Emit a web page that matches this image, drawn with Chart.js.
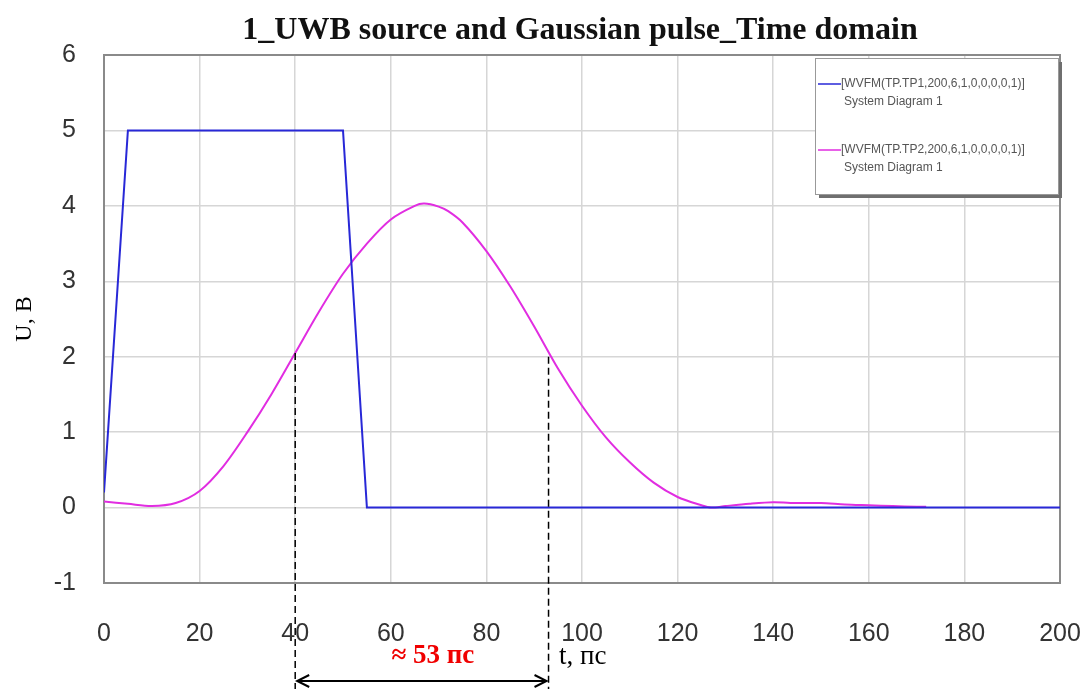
<!DOCTYPE html>
<html>
<head>
<meta charset="utf-8">
<script src="https://cdn.jsdelivr.net/npm/chart.js@4.4.1/dist/chart.umd.min.js"></script>
<style>
html,body{margin:0;padding:0;background:#fff;}
#wrap{width:1083px;height:689px;position:relative;}
</style>
</head>
<body>
<div id="wrap"><canvas id="c" width="1083" height="689"></canvas></div>
<script>
// ---- data ----
const chartTitle = "1_UWB source and Gaussian pulse_Time domain";
const series1Label = "[WVFM(TP.TP1,200,6,1,0,0,0,0,1)]";
const series2Label = "[WVFM(TP.TP2,200,6,1,0,0,0,0,1)]";
const legendSub = "System Diagram 1";
const sourceT = [0, 5, 50, 55, 200];
const sourceU = [0.2, 5, 5, 0, 0];
const pulseT = [0, 5, 10, 15, 20, 25, 30, 35, 40, 45, 50, 55, 60, 65, 67, 70, 72, 75, 80, 85, 90, 95, 100, 105, 110, 115, 120, 125, 127, 130, 135, 140, 145, 150, 155, 160, 165, 170, 172];
const pulseU = [0.08, 0.05, 0.02, 0.06, 0.22, 0.55, 1.0, 1.5, 2.05, 2.6, 3.1, 3.5, 3.82, 4.0, 4.03, 3.99, 3.93, 3.78, 3.4, 2.93, 2.4, 1.84, 1.35, 0.93, 0.6, 0.33, 0.14, 0.03, 0.0, 0.02, 0.05, 0.07, 0.06, 0.06, 0.04, 0.03, 0.02, 0.01, 0.01];
const markerT = [40, 93];
const markerU = [2.05, 2.0];
const widthLabel = "≈ 53 пс";
const xAxisLabel = "t, пс";
const yAxisLabel = "U, В";
const xTicks = [0, 20, 40, 60, 80, 100, 120, 140, 160, 180, 200];
const yTicks = [-1, 0, 1, 2, 3, 4, 5, 6];

const BLUE = 'rgb(40,40,215)';
const MAG = 'rgb(225,45,225)';

const toXY = (xs, ys) => xs.map((x, i) => ({x: x, y: ys[i]}));

const framePlugin = {
  id: 'frame',
  beforeDatasetsDraw(chart) {
    const a = chart.chartArea, ctx = chart.ctx;
    ctx.save();
    ctx.strokeStyle = '#8a8a8a';
    ctx.lineWidth = 2;
    ctx.strokeRect(a.left, a.top, a.right - a.left, a.bottom - a.top);
    ctx.restore();
  },
  afterDraw(chart) {
    const ctx = chart.ctx, xs = chart.scales.x, ys = chart.scales.y;
    ctx.save();
    // title
    ctx.font = 'bold 32px "Liberation Serif", "Times New Roman", serif';
    ctx.fillStyle = '#111';
    ctx.textAlign = 'center';
    ctx.textBaseline = 'middle';
    ctx.fillText(chartTitle, 580, 31);
    // legend box
    const lx = 815, ly = 58, lw = 243, lh = 136;
    ctx.fillStyle = '#6f6f6f';
    ctx.fillRect(lx + 4, ly + 4, lw, lh);
    ctx.fillStyle = '#fff';
    ctx.fillRect(lx, ly, lw, lh);
    ctx.strokeStyle = '#999';
    ctx.lineWidth = 1;
    ctx.strokeRect(lx + 0.5, ly + 0.5, lw, lh);
    const entries = [[series1Label, BLUE, 84], [series2Label, MAG, 150]];
    ctx.font = '12px "Liberation Sans", Arial, sans-serif';
    ctx.textBaseline = 'middle';
    ctx.textAlign = 'left';
    entries.forEach(e => {
      ctx.strokeStyle = e[1];
      ctx.lineWidth = 1.5;
      ctx.beginPath();
      ctx.moveTo(818, e[2]);
      ctx.lineTo(841, e[2]);
      ctx.stroke();
      ctx.fillStyle = '#555';
      ctx.fillText(e[0], 841, e[2]);
      ctx.fillText(legendSub, 844, e[2] + 18);
    });
    // marker dashed lines
    ctx.strokeStyle = '#000';
    ctx.lineWidth = 1.5;
    ctx.setLineDash([7, 4]);
    const px = markerT.map(t => xs.getPixelForValue(t));
    markerT.forEach((t, i) => {
      ctx.beginPath();
      ctx.moveTo(px[i], ys.getPixelForValue(markerU[i]));
      ctx.lineTo(px[i], chart.height);
      ctx.stroke();
    });
    ctx.setLineDash([]);
    // double arrow
    const ay = 681;
    ctx.lineWidth = 2;
    ctx.beginPath();
    ctx.moveTo(px[0] + 2, ay);
    ctx.lineTo(px[1] - 2, ay);
    ctx.stroke();
    [[px[0], 1], [px[1], -1]].forEach(([x, d]) => {
      ctx.beginPath();
      ctx.moveTo(x + d * 14, ay - 6);
      ctx.lineTo(x + d * 2, ay);
      ctx.lineTo(x + d * 14, ay + 6);
      ctx.stroke();
    });
    // labels
    ctx.textAlign = 'center';
    ctx.textBaseline = 'middle';
    ctx.font = 'bold 27px "Liberation Serif", "Times New Roman", serif';
    ctx.fillStyle = '#f00000';
    ctx.fillText(widthLabel, (px[0] + px[1]) / 2 + 11, 656);
    ctx.font = '27px "Liberation Serif", "Times New Roman", serif';
    ctx.fillStyle = '#000';
    ctx.textAlign = 'left';
    ctx.fillText(xAxisLabel, 559, 657);
    ctx.restore();
  }
};

new Chart(document.getElementById('c'), {
  type: 'line',
  data: {
    datasets: [
      {label: series1Label, data: toXY(sourceT, sourceU), borderColor: BLUE, borderWidth: 2, pointRadius: 0, tension: 0, fill: false},
      {label: series2Label, data: toXY(pulseT, pulseU), borderColor: MAG, borderWidth: 2, pointRadius: 0, tension: 0.3, fill: false}
    ]
  },
  options: {
    responsive: false,
    animation: false,
    devicePixelRatio: 1,
    layout: {padding: {left: 0, right: 23, top: 55, bottom: 0}},
    plugins: {
      legend: {display: false},
      tooltip: {enabled: false},
      title: {display: false}
    },
    scales: {
      x: {
        type: 'linear', min: 0, max: 200,
        afterBuildTicks: s => { s.ticks = xTicks.map(v => ({value: v})); },
        afterFit: s => { s.height = 106; s.paddingLeft = 0; s.paddingRight = 0; },
        grid: {color: '#d6d6d6', lineWidth: 1.5, drawTicks: false},
        border: {display: false},
        ticks: {color: '#333', padding: 36, maxRotation: 0, font: {family: '"Liberation Sans", Arial, sans-serif', size: 25}}
      },
      y: {
        type: 'linear', min: -1, max: 6,
        afterBuildTicks: s => { s.ticks = yTicks.map(v => ({value: v})); },
        afterFit: s => { s.width = 104; s.paddingTop = 0; s.paddingBottom = 0; },
        grid: {color: '#d6d6d6', lineWidth: 1.5, drawTicks: false},
        border: {display: false},
        title: {display: true, text: yAxisLabel, color: '#000', padding: {top: 10, bottom: 0},
          font: {family: '"Liberation Serif", "Times New Roman", serif', size: 24}},
        ticks: {color: '#333', padding: 28, font: {family: '"Liberation Sans", Arial, sans-serif', size: 25}}
      }
    }
  },
  plugins: [framePlugin]
});
</script>
</body>
</html>
